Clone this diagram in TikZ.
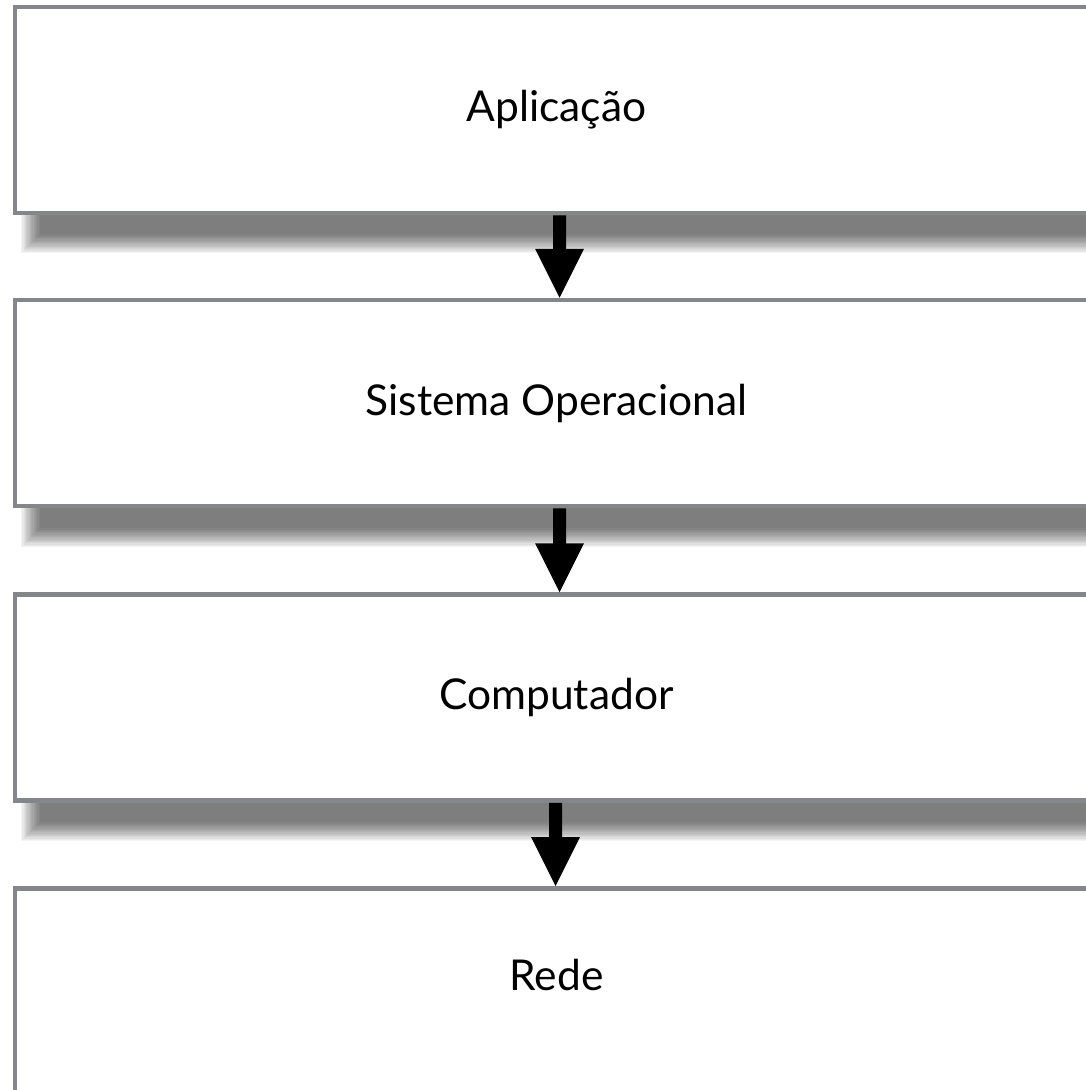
\documentclass[tikz,border=0pt]{standalone}
\usepackage{fontspec}
\setmainfont{Lato}
\usetikzlibrary{calc}
\definecolor{boxgray}{RGB}{132,134,139}
\begin{document}
\begin{tikzpicture}[x=1pt,y=-1pt,
  layer/.style={draw=boxgray, line width=4.5pt, fill=white, minimum width=1083pt,
    minimum height=206pt, inner sep=0pt},
  lbl/.style={font=\fontsize{42.5}{50}\selectfont, text=black},
  shadowpiece/.style={fill=black, opacity=0.042}]
\useasboundingbox (0,0) rectangle (1086,1090);
\clip (0,0) rectangle (1086,1090);
% soft shadows under the three upper layers
\foreach \b in {215,509,803}{
  \foreach \k in {0,...,15}{
    \fill[shadowpiece] ({21+1.25*\k},{\b-20}) rectangle (1120,{\b+38-1.25*\k});
  }
}
% layers
\node[layer] (app) at (556.5,110) {};
\node[layer] (so)  at (556.5,403) {};
\node[layer] (comp) at (556.5,697.5) {};
\node[layer, minimum height=300pt, anchor=north] (net) at (556.5,886) {};
% labels
\node[lbl] (tapp) at (app.center) {Aplicação};
\node[lbl] (tso) at (so.center) {Sistema Operacional};
\node[lbl] (tcomp) at (comp.center) {Computador};
\node[lbl] (tnet) at (556.5,975) {Rede};
% arrows
\fill[black] let \p1=(app.south), \p2=(so.north) in
  (\x1+3pt-6.5pt,\y1) -- (\x1+3pt+6.5pt,\y1) -- (\x1+3pt+6.5pt,\y2+49pt)
  -- (\x1+3pt+24.5pt,\y2+49pt) -- (\x1+3pt,\y2) -- (\x1+3pt-24.5pt,\y2+49pt)
  -- (\x1+3pt-6.5pt,\y2+49pt) -- cycle;
\fill[black] let \p1=(so.south), \p2=(comp.north) in
  (\x1+3pt-6.5pt,\y1) -- (\x1+3pt+6.5pt,\y1) -- (\x1+3pt+6.5pt,\y2+49pt)
  -- (\x1+3pt+24.5pt,\y2+49pt) -- (\x1+3pt,\y2) -- (\x1+3pt-24.5pt,\y2+49pt)
  -- (\x1+3pt-6.5pt,\y2+49pt) -- cycle;
\fill[black] let \p1=(comp.south), \p2=(net.north) in
  (\x1-1pt-6.5pt,\y1) -- (\x1-1pt+6.5pt,\y1) -- (\x1-1pt+6.5pt,\y2+49pt)
  -- (\x1-1pt+24.5pt,\y2+49pt) -- (\x1-1pt,\y2) -- (\x1-1pt-24.5pt,\y2+49pt)
  -- (\x1-1pt-6.5pt,\y2+49pt) -- cycle;
\end{tikzpicture}
\end{document}
